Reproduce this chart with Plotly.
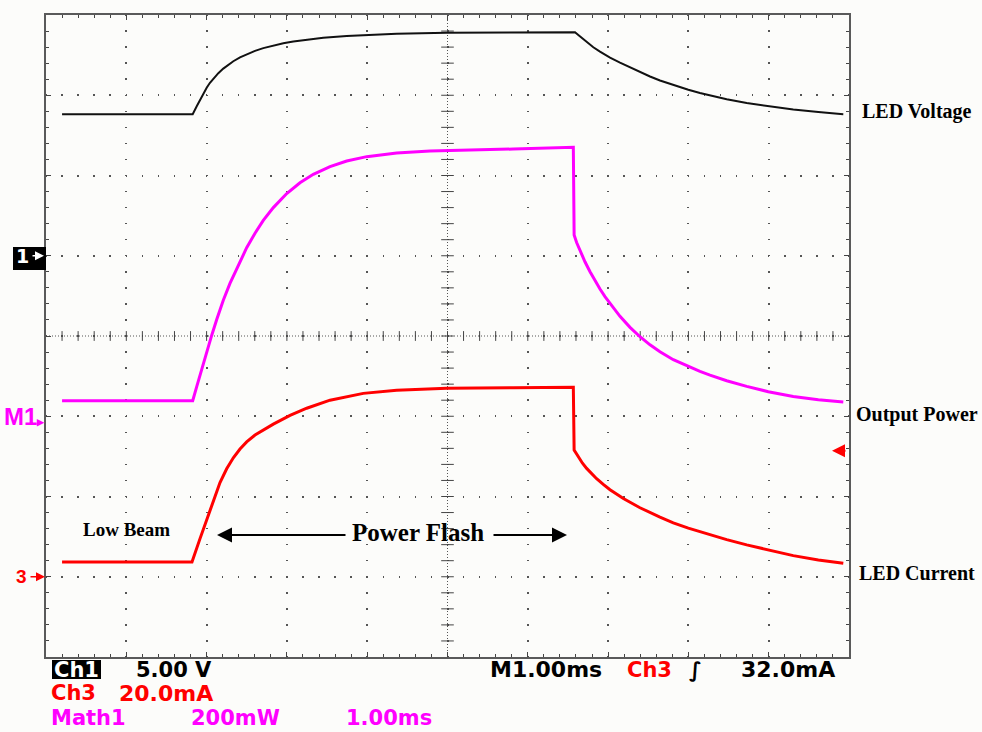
import numpy as np
import plotly.graph_objects as go

# ---------------- data (time in ms, 1.00 ms/div; levels in screen divisions) ----------------
volt_t = [0.20, 1.827, 1.877, 1.918, 1.959, 2.001, 2.042, 2.083, 2.146, 2.208, 2.270, 2.333, 2.416,
          2.499, 2.603, 2.706, 2.831, 2.955, 3.080, 3.247, 3.453, 3.745, 3.994, 4.367, 4.990, 6.588,
          6.629, 6.691, 6.754, 6.816, 6.899, 7.024, 7.148, 7.273, 7.397, 7.522, 7.646, 7.771, 7.895,
          7.999, 8.144, 8.269, 8.477, 8.726, 8.995, 9.306, 9.618, 9.929]
volt_v = [2.763, 2.763, 2.863, 2.943, 3.020, 3.093, 3.155, 3.207, 3.275, 3.332, 3.381, 3.424, 3.472,
          3.512, 3.553, 3.587, 3.621, 3.648, 3.670, 3.694, 3.716, 3.738, 3.752, 3.766, 3.780, 3.786,
          3.751, 3.698, 3.648, 3.598, 3.543, 3.468, 3.406, 3.345, 3.288, 3.234, 3.184, 3.140, 3.100,
          3.068, 3.028, 2.997, 2.950, 2.903, 2.862, 2.822, 2.790, 2.763]

power_t = [0.20, 1.827, 1.877, 1.918, 1.959, 2.001, 2.064, 2.126, 2.208, 2.291, 2.416, 2.499, 2.603,
           2.706, 2.831, 2.998, 3.163, 3.329, 3.537, 3.745, 3.994, 4.367, 4.782, 5.197, 5.820, 6.567,
           6.577, 6.608, 6.650, 6.712, 6.775, 6.837, 6.899, 6.961, 7.024, 7.148, 7.273, 7.397,
           7.522, 7.646, 7.812, 7.999, 8.144, 8.269, 8.477, 8.726, 8.995, 9.306, 9.618, 9.929]
power_v = [-0.806, -0.806, -0.630, -0.483, -0.340, -0.197, 0.010, 0.205, 0.445, 0.655, 0.930, 1.100, 1.280,
           1.440, 1.600, 1.775, 1.910, 2.015, 2.110, 2.180, 2.235, 2.280, 2.305, 2.318, 2.330, 2.351,
           1.259, 1.165, 1.060, 0.925, 0.800, 0.688, 0.585, 0.490, 0.402, 0.245, 0.108, -0.009,
           -0.110, -0.196, -0.295, -0.383, -0.442, -0.488, -0.557, -0.628, -0.694, -0.755, -0.795, -0.822]

current_t = [0.20, 1.818, 1.918, 2.001, 2.083, 2.167, 2.250, 2.333, 2.416, 2.499, 2.603, 2.706, 2.831,
             3.039, 3.247, 3.537, 3.951, 4.367, 4.990, 5.820, 6.567, 6.577, 6.629, 6.681, 6.733, 6.795,
             6.857, 6.940, 7.024, 7.190, 7.397, 7.646, 7.812, 7.999, 8.269, 8.477, 8.726, 8.995, 9.306,
             9.618, 9.929]
current_v = [-2.816, -2.816, -2.525, -2.285, -2.044, -1.826, -1.654, -1.517, -1.408, -1.320, -1.234, -1.171, -1.098,
             -0.990, -0.900, -0.800, -0.715, -0.675, -0.652, -0.644, -0.639, -1.421, -1.510, -1.585, -1.650, -1.718,
             -1.778, -1.850, -1.915, -2.025, -2.140, -2.258, -2.328, -2.394, -2.478, -2.537, -2.603, -2.668, -2.737,
             -2.790, -2.832]

trace_names = ["LED Voltage", "Output Power", "LED Current"]
ground_levels = {"1": 1.0, "M1": -1.0, "3": -3.0}
trigger_level = -1.43

status_row1 = ["Ch1", "5.00 V", "M1.00ms", "Ch3", "\u222b", "32.0mA"]
status_row2 = ["Ch3", "20.0mA"]
status_row3 = ["Math1", "200mW", "1.00ms"]

# ---------------- layout geometry ----------------
W, H = 982, 732
L, R, T, B = 46, 133, 15, 75
PW, PH = W - L - R, H - T - B
BG = "#fcfcfa"
MAG = "#ff00ff"
RED = "#ff0000"
SERIF = "Liberation Serif"
SANS = "DejaVu Sans"


def px(xp):
    return (xp - L) / PW


def py(yp):
    return (H - B - yp) / PH


fig = go.Figure()

# graticule cross ticks on the centre lines
cx = np.round(np.arange(0.2, 10.0, 0.2), 2)
fig.add_trace(go.Scatter(x=cx, y=np.zeros_like(cx), mode="markers", hoverinfo="skip", showlegend=False,
                         marker=dict(symbol="line-ns", size=7, color="#444", line=dict(width=1, color="#444"))))
cy = np.round(np.arange(-3.8, 4.0, 0.2), 2)
fig.add_trace(go.Scatter(x=np.full_like(cy, 5.0), y=cy, mode="markers", hoverinfo="skip", showlegend=False,
                         marker=dict(symbol="line-ew", size=9, color="#444", line=dict(width=1, color="#444"))))

# waveforms
fig.add_trace(go.Scatter(x=volt_t, y=volt_v, mode="lines", name=trace_names[0], hoverinfo="skip",
                         showlegend=False, line=dict(color="#111111", width=2)))
fig.add_trace(go.Scatter(x=power_t, y=power_v, mode="lines", name=trace_names[1], hoverinfo="skip",
                         showlegend=False, line=dict(color=MAG, width=3)))
fig.add_trace(go.Scatter(x=current_t, y=current_v, mode="lines", name=trace_names[2], hoverinfo="skip",
                         showlegend=False, line=dict(color=RED, width=3)))

shapes = [
    dict(type="line", xref="x", yref="y", x0=0, x1=10, y0=0, y1=0, layer="below",
         line=dict(color="#555", width=1, dash="1px,2px")),
    dict(type="line", xref="x", yref="y", x0=5, x1=5, y0=-4, y1=4, layer="below",
         line=dict(color="#555", width=1, dash="1px,2px")),
    # black label boxes
    dict(type="rect", xref="paper", yref="paper", x0=px(13), x1=px(46), y0=py(270), y1=py(247),
         fillcolor="#000", line=dict(width=0)),
    dict(type="rect", xref="paper", yref="paper", x0=px(52), x1=px(101), y0=py(679), y1=py(660),
         fillcolor="#000", line=dict(width=0)),
]

ann = []


def text(t, xp, yp, size, color, family, bold=False, xanchor="left"):
    ann.append(dict(text=t, x=px(xp), y=py(yp), xref="paper", yref="paper", xanchor=xanchor,
                    yanchor="middle", showarrow=False, borderpad=0, borderwidth=0,
                    font=dict(family=family, size=size, color=color,
                              weight="bold" if bold else "normal")))


def arrow(x_tip, y_tip, dx, color, width, size, yref="paper"):
    ann.append(dict(x=px(x_tip), y=y_tip if yref == "y" else py(y_tip), xref="paper", yref=yref,
                    ax=dx, ay=0, text="", showarrow=True, arrowhead=2, arrowsize=size,
                    arrowwidth=width, arrowcolor=color))


# trace labels (right)
text(trace_names[0], 862, 112, 20, "#000", SERIF, True)
text(trace_names[1], 856, 414, 20, "#000", SERIF, True)
text(trace_names[2], 859, 573, 20, "#000", SERIF, True)
# annotations inside screen
text("Low Beam", 83, 529, 19, "#000", SERIF, True)
text("Power Flash", 352, 532, 25, "#000", SERIF, True)
arrow(217, 535, 130, "#000", 2, 1.5)
arrow(567, 535, -75, "#000", 2, 1.5)

# ground markers (left)
ann.append(dict(text="1", x=px(22), y=ground_levels["1"], xref="paper", yref="y", xanchor="center",
                yanchor="middle", showarrow=False,
                font=dict(family=SANS, size=19, color="#fff", weight="bold")))
arrow(44, ground_levels["1"], -13, "#fff", 1.5, 1.2, yref="y")
ann.append(dict(text="M1<span style='font-size:9px'>\u25b6</span>", x=0, y=ground_levels["M1"],
                xref="paper", yref="y", xanchor="right", yanchor="middle", showarrow=False, xshift=1,
                font=dict(family="Liberation Sans", size=24, color=MAG, weight="bold")))
ann.append(dict(text="3", x=px(21), y=ground_levels["3"], xref="paper", yref="y", xanchor="center",
                yanchor="middle", showarrow=False,
                font=dict(family="Liberation Sans", size=19, color=RED, weight="bold")))
arrow(45, ground_levels["3"], -16, RED, 1.5, 1.2, yref="y")
# trigger level (right)
arrow(832, trigger_level, 15, RED, 2, 1.3, yref="y")

# status line
text(status_row1[0], 76.5, 669.5, 21, "#fff", SANS, True, xanchor="center")
text(status_row1[1], 136, 669.5, 21, "#000", SANS, True)
text(status_row1[2], 490, 669.5, 22, "#000", SANS, True)
text(status_row1[3], 627, 669.5, 21, RED, SANS, True)
text(status_row1[4], 689, 669.5, 21, "#000", SANS, True)
text(status_row1[5], 741, 669.5, 22, "#000", SANS, True)
text(status_row2[0], 51, 693, 21, RED, SANS, True)
text(status_row2[1], 119, 693, 22, RED, SANS, True)
text(status_row3[0], 51, 717.5, 21, MAG, SANS, True)
text(status_row3[1], 191, 717.5, 21, MAG, SANS, True)
text(status_row3[2], 346, 717.5, 21, MAG, SANS, True)

axis_common = dict(showline=True, linecolor="#5a5a5a", linewidth=2, mirror="ticks",
                   ticks="inside", ticklen=5, tickwidth=1, tickcolor="#444",
                   showticklabels=False, zeroline=False, showgrid=True,
                   gridcolor="#555", gridwidth=1.5, fixedrange=True)

fig.update_layout(
    width=W, height=H, autosize=False,
    margin=dict(l=L, r=R, t=T, b=B, pad=0),
    paper_bgcolor=BG, plot_bgcolor=BG,
    showlegend=False, hovermode=False,
    xaxis=dict(range=[0, 10], tick0=0, dtick=1, griddash="0.75px,14.55px,0.75px,0px",
               minor=dict(dtick=0.2, tick0=0, ticks="inside", ticklen=3, tickwidth=1,
                          tickcolor="#444", showgrid=False),
               **axis_common),
    yaxis=dict(range=[-4, 4], tick0=0, dtick=1, griddash="0.75px,14.56px,0.75px,0px",
               minor=dict(dtick=0.2, tick0=0, ticks="inside", ticklen=3, tickwidth=1,
                          tickcolor="#444", showgrid=False),
               **axis_common),
    shapes=shapes,
    annotations=ann,
)

fig.write_html("out.html", config={"displayModeBar": False},
               post_script="document.body.style.margin='0px';document.body.style.overflow='hidden';")
